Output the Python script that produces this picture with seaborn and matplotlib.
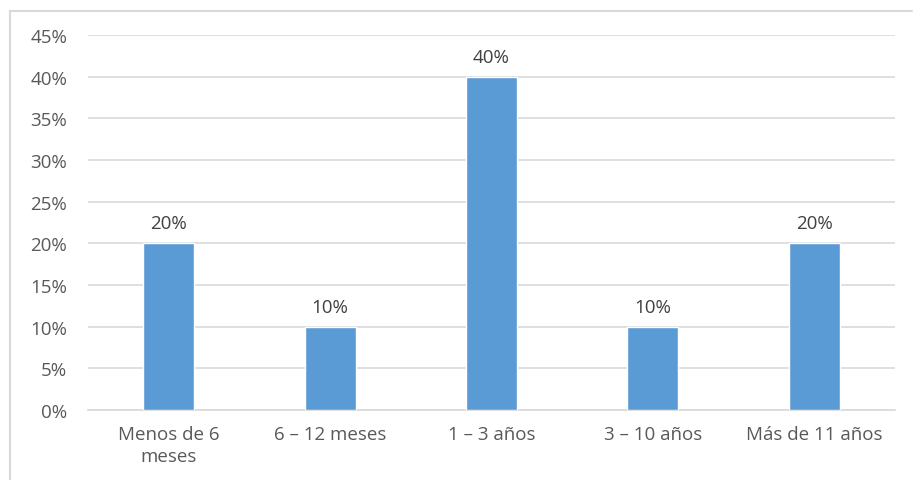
import matplotlib
matplotlib.use("Agg")
import matplotlib.pyplot as plt
import seaborn as sns
import pandas as pd
from matplotlib.lines import Line2D
from matplotlib.ticker import FuncFormatter, MultipleLocator

categories = ["Menos de 6\nmeses", "6 – 12 meses", "1 – 3 años", "3 – 10 años", "Más de 11 años"]
values = [0.20, 0.10, 0.40, 0.10, 0.20]
labels = ["20%", "10%", "40%", "10%", "20%"]

sns.set_theme(style="white")
plt.rcParams['font.family'] = ['Open Sans', 'DejaVu Sans']

df = pd.DataFrame({"cat": categories, "val": values})

fig = plt.figure(figsize=(9.13, 4.81), dpi=100)
ax = fig.add_axes([88/913, 1-411/481, (895-88)/913, (411-36)/481])

sns.barplot(data=df, x="cat", y="val", color="#5B9BD5", saturation=1, width=0.316, ax=ax, zorder=3)

ax.set_ylim(0, 0.45)
ax.yaxis.set_major_locator(MultipleLocator(0.05))
ax.yaxis.set_major_formatter(FuncFormatter(lambda v, p: f"{v*100:.0f}%"))
ax.grid(axis="y", color="#D9D9D9", linewidth=1.2, zorder=0)
ax.set_axisbelow(True)
for s in ["top", "right", "left"]:
    ax.spines[s].set_visible(False)
ax.spines["bottom"].set_color("#D9D9D9")
ax.spines["bottom"].set_linewidth(1.2)
ax.set_xlabel("")
ax.set_ylabel("")
ax.tick_params(axis="both", length=0, labelsize=13.5, colors="#595959")
ax.tick_params(axis="y", pad=15)
ax.tick_params(axis="x", pad=11)
for t in ax.get_xticklabels():
    t.set_linespacing(1.25)

for i, (v, l) in enumerate(zip(values, labels)):
    ax.annotate(l, (i, v), xytext=(0, 8), textcoords="offset points",
                ha="center", va="bottom", fontsize=13.5, color="#404040")

# chart frame (left and top edges)
fig.add_artist(Line2D([10/913, 10/913], [0, 1-12/481], color="#D9D9D9", lw=1.5, transform=fig.transFigure))
fig.add_artist(Line2D([10/913, 912/913], [1-12/481, 1-12/481], color="#D9D9D9", lw=1.5, transform=fig.transFigure))

fig.savefig("out.png", dpi=100)
